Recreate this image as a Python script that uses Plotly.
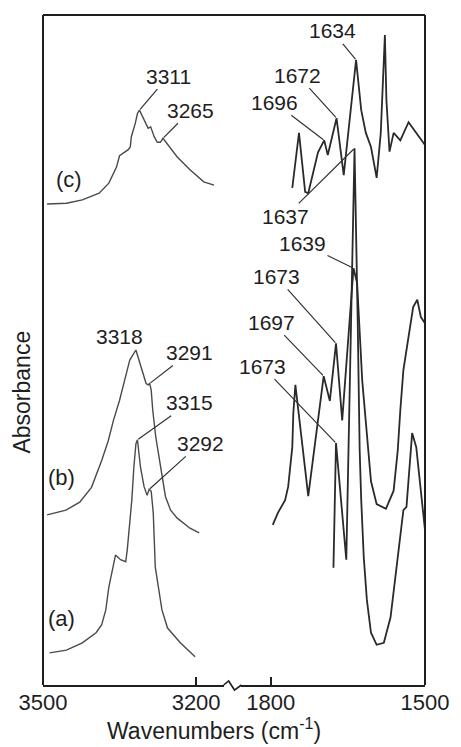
import numpy as np
import plotly.graph_objects as go

# ---------------- spectra (wavenumber in cm-1, absorbance in arbitrary offset units) ----------------
# N-H stretching region (3500-3150 cm-1)
c_nh_wn = [3492, 3454, 3423, 3390, 3371, 3356, 3350, 3342, 3333, 3329, 3327, 3319, 3315, 3311,
           3303, 3294, 3289, 3282, 3276, 3270, 3265, 3258, 3237, 3212, 3185, 3165]
c_nh_abs = [71.8, 71.9, 72.4, 73.4, 74.9, 77.3, 79.0, 79.4, 79.9, 80.3, 81.8, 83.9, 85.3, 85.8,
            84.6, 83.1, 83.3, 81.8, 81.0, 81.0, 81.6, 80.9, 78.8, 76.9, 75.1, 74.6]

b_nh_wn = [3492, 3455, 3428, 3405, 3385, 3372, 3362, 3350, 3340, 3330, 3318, 3312, 3305, 3298,
           3294, 3291, 3288, 3285, 3279, 3269, 3260, 3250, 3237, 3212, 3194]
b_nh_abs = [25.4, 26.1, 27.3, 29.5, 33.5, 36.5, 39.5, 42.5, 45.5, 48.5, 50.0, 48.6, 46.7, 45.0,
            44.8, 45.0, 44.0, 41.0, 37.0, 32.1, 28.1, 26.1, 24.9, 23.4, 22.7]

a_nh_wn = [3487, 3454, 3423, 3396, 3385, 3377, 3371, 3362, 3358, 3348, 3338, 3335, 3329, 3326,
           3322, 3318, 3315, 3309, 3302, 3296, 3292, 3288, 3284, 3282, 3280, 3267, 3256, 3231, 3202]
a_nh_abs = [4.8, 5.2, 6.3, 7.8, 9.0, 11.2, 14.6, 18.2, 19.4, 18.7, 18.4, 20.1, 25.1, 27.6,
            32.5, 36.0, 36.6, 32.5, 29.6, 28.3, 29.2, 28.9, 25.7, 22.7, 17.6, 11.2, 8.5, 6.3, 4.2]

# Amide I / II region (1800-1500 cm-1)
c_am_wn = [1758, 1745, 1733, 1727, 1708, 1696, 1689, 1672, 1658, 1634, 1624, 1615, 1605, 1594,
           1586, 1578, 1575, 1569, 1561, 1548, 1532, 1504, 1500]
c_am_abs = [74.2, 82.4, 73.6, 73.4, 79.5, 81.3, 79.1, 84.6, 76.1, 93.3, 85.8, 82.4, 80.3, 75.7,
            82.4, 97.0, 87.3, 79.6, 82.4, 81.3, 84.0, 80.9, 80.6]

b_am_wn = [1796, 1786, 1772, 1766, 1758, 1756, 1752, 1727, 1697, 1685, 1673, 1661, 1639, 1632,
           1622, 1605, 1594, 1576, 1561, 1553, 1548, 1542, 1536, 1523, 1515, 1508, 1500]
b_am_abs = [23.9, 25.7, 27.6, 29.6, 35.5, 40.6, 44.8, 28.2, 46.1, 42.4, 51.0, 39.5, 62.2, 60.0,
            45.4, 30.4, 27.0, 26.3, 29.0, 35.0, 41.0, 47.0, 50.0, 56.4, 57.5, 54.9, 54.0]

a_am_wn = [1678, 1673, 1653, 1637, 1631, 1627, 1624, 1619, 1613, 1605, 1594, 1580, 1567, 1555,
           1542, 1536, 1532, 1525, 1517, 1510, 1500]
a_am_abs = [17.5, 36.1, 18.7, 80.1, 55.0, 35.0, 27.6, 19.0, 12.7, 7.8, 6.0, 6.3, 10.1, 17.6,
            26.1, 26.6, 31.0, 37.6, 35.5, 30.6, 23.1]

spectra = {
    "c": {"nh": (c_nh_wn, c_nh_abs), "am": (c_am_wn, c_am_abs)},
    "b": {"nh": (b_nh_wn, b_nh_abs), "am": (b_am_wn, b_am_abs)},
    "a": {"nh": (a_nh_wn, a_nh_abs), "am": (a_am_wn, a_am_abs)},
}

# peak labels: wavenumber, spectrum, region, label offset (px)
peak_labels = [
    (3311, "c", "nh", 29, -34),
    (3265, "c", "nh", 28, -28),
    (3291, "b", "nh", 40, -31),
    (3315, "a", "nh", 52, -37),
    (3292, "a", "nh", 51, -46),
    (1634, "c", "am", -24, -29),
    (1672, "c", "am", -39, -43),
    (1696, "c", "am", -50, -38),
    (1637, "a", "am", -69, 68),
    (1639, "b", "am", -51, -25),
    (1673, "b", "am", -60, -67),
    (1697, "b", "am", -52, -54),
    (1673, "a", "am", -74, -77),
]

# spectrum tags placed to the left of each N-H band
tag_pos = {"c": (3450, 75.5), "b": (3463, 31.0), "a": (3463, 10.0)}

x_ticks_nh = [3500, 3200]
x_ticks_am = [1800, 1500]

FONT = "Arial, Liberation Sans, Helvetica, sans-serif"
INK = "#1e1e1e"


def value_at(wn, abs_, x):
    w = np.asarray(wn, float)[::-1]
    v = np.asarray(abs_, float)[::-1]
    return float(np.interp(x, w, v))


fig = go.Figure()
for key, regions in spectra.items():
    w, v = regions["nh"]
    fig.add_trace(go.Scatter(x=w, y=v, mode="lines", xaxis="x", yaxis="y",
                             line=dict(color="#4a4a4a", width=1.4), showlegend=False))
    w, v = regions["am"]
    fig.add_trace(go.Scatter(x=w, y=v, mode="lines", xaxis="x2", yaxis="y",
                             line=dict(color="#2a2a2a", width=1.8), showlegend=False))

annotations = []
for wn, key, reg, ax, ay in peak_labels:
    w, v = spectra[key][reg]
    annotations.append(dict(
        x=wn, y=value_at(w, v, wn), xref="x" if reg == "nh" else "x2", yref="y",
        text=str(wn), showarrow=True, arrowhead=0, arrowwidth=1.2, arrowcolor="#333",
        ax=ax, ay=ay, standoff=1, font=dict(family=FONT, size=21, color=INK)))

# 3318 peak of (b) is labelled without a leader line
annotations.append(dict(
    x=3318, y=value_at(b_nh_wn, b_nh_abs, 3318), xref="x", yref="y", text="3318",
    showarrow=False, xshift=-16, yshift=14, font=dict(family=FONT, size=21, color=INK)))

for key, (xw, yv) in tag_pos.items():
    annotations.append(dict(x=xw, y=yv, xref="x", yref="y", text=f"({key})", showarrow=False,
                            font=dict(family=FONT, size=22, color=INK)))

# axis titles
annotations.append(dict(x=0.447, y=-0.066, xref="paper", yref="paper",
                        text="Wavenumbers (cm<sup>-1</sup>)", showarrow=False,
                        xanchor="center", yanchor="middle",
                        font=dict(family=FONT, size=23, color=INK)))
annotations.append(dict(x=-0.054, y=0.437, xref="paper", yref="paper", text="Absorbance",
                        showarrow=False, textangle=-90, xanchor="center", yanchor="middle",
                        font=dict(family=FONT, size=23, color=INK)))

# frame (top, left, right) and the axis-break squiggle
frame = dict(color=INK, width=2)
shapes = [
    dict(type="line", xref="paper", yref="paper", x0=0, y0=1, x1=1, y1=1, line=frame),
    dict(type="line", xref="paper", yref="paper", x0=0, y0=0, x1=0, y1=1, line=frame),
    dict(type="line", xref="paper", yref="paper", x0=1, y0=0, x1=1, y1=1, line=frame),
    dict(type="path", xref="paper", yref="paper",
         path="M 0.473 0 L 0.486 0.006 L 0.5013 -0.0075 L 0.5193 0", line=dict(color=INK, width=1.6)),
]

axis_common = dict(showline=True, linecolor=INK, linewidth=2, ticks="inside", ticklen=8,
                   tickwidth=2, tickcolor=INK, showgrid=False, zeroline=False,
                   ticklabelstandoff=-3,
                   tickfont=dict(family=FONT, size=22, color=INK))

fig.update_layout(
    width=461, height=747,
    margin=dict(l=43, r=29, t=15, b=62),
    paper_bgcolor="white", plot_bgcolor="white",
    xaxis=dict(domain=[0, 0.473], range=[3500, 3146], tickvals=x_ticks_nh,
               anchor="y", **axis_common),
    xaxis2=dict(domain=[0.5193, 1], range=[1857, 1500], tickvals=x_ticks_am,
                anchor="y", **axis_common),
    yaxis=dict(range=[0, 100], showticklabels=False, showgrid=False, zeroline=False,
               showline=False, ticks=""),
    annotations=annotations,
    shapes=shapes,
    showlegend=False,
)

fig.write_html("out.html")
